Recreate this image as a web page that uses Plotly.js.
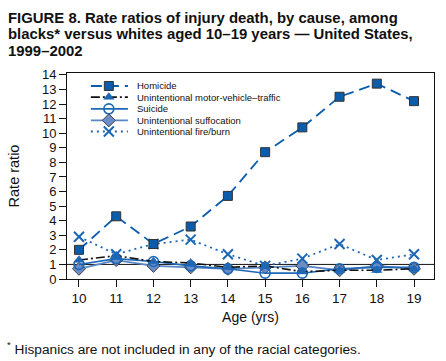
<!DOCTYPE html>
<html><head><meta charset="utf-8">
<script src="https://cdn.plot.ly/plotly-3.0.1.min.js"></script>
<style>html,body{margin:0;padding:0;background:#fff}#chart{width:446px;height:361px}</style>
</head><body><div id="chart"></div>
<script>
var ages = [10, 11, 12, 13, 14, 15, 16, 17, 18, 19];
var homicide = [2.0, 4.3, 2.4, 3.6, 5.7, 8.7, 10.4, 12.5, 13.4, 12.2];
var motorVehicle = [1.3, 1.6, 1.2, 1.1, 0.8, 0.9, 0.5, 0.6, 0.6, 0.7];
var suicide = [1.0, 1.4, 1.2, 0.9, 0.7, 0.4, 0.4, 0.7, 0.8, 0.8];
var suffocation = [0.7, 1.3, 0.9, 0.8, 0.7, 0.8, 0.9, 0.6, 0.9, 0.7];
var fireBurn = [2.9, 1.7, 2.4, 2.7, 1.7, 0.9, 1.4, 2.4, 1.3, 1.7];
var seriesNames = ["Homicide", "Unintentional motor-vehicle\u2013traffic", "Suicide", "Unintentional suffocation", "Unintentional fire/burn"];
var yTicks = [0,1,2,3,4,5,6,7,8,9,10,11,12,13,14];
var titleLines = ["FIGURE 8. Rate ratios of injury death, by cause, among", "blacks* versus whites aged 10\u201319 years \u2014 United States,", "1999\u20132002"];
var footnote = "<sup>*</sup> Hispanics are not included in any of the racial categories.";

var FONT = 'Liberation Sans, Arial, sans-serif';
var styles = [
  {line:{color:'#0b5cab', width:1.8, dash:'11px,6px'}, marker:{symbol:'square', size:9, color:'#0b5cab', line:{color:'#333', width:1}}},
  {line:{color:'#111', width:1.6, dash:'9px,3px,2px,3px'}, marker:{symbol:'triangle-up', size:9, color:'#1f66b3', line:{color:'#1f66b3', width:0.5}}},
  {line:{color:'#1c67b6', width:1.6}, marker:{symbol:'circle-open', size:10, color:'#1c67b6', line:{color:'#1c67b6', width:1.6}}},
  {line:{color:'#5b86c4', width:1.8}, marker:{symbol:'diamond', size:10, color:'#6a8dc8', line:{color:'#444', width:1}}},
  {line:{color:'#1c67b6', width:1.8, dash:'2px,4px'}, marker:{symbol:'x-thin-open', size:10, color:'#1c67b6', line:{color:'#1c67b6', width:2}}}
];
var data = [homicide, motorVehicle, suicide, suffocation, fireBurn];
var drawOrder = [3, 2, 1, 4, 0];
var traces = [];
drawOrder.forEach(function(i){
  traces.push({x: ages, y: data[i], type:'scatter', mode:'lines+markers', name: seriesNames[i],
    line: styles[i].line, marker: styles[i].marker, showlegend:false, hoverinfo:'skip'});
});

// custom legend on overlay axes (range 0..1)
var legY = [0.937, 0.883, 0.826, 0.770, 0.716];
var legX0 = 0.065, legX1 = 0.166, legXm = 0.114, legText = 0.186;
var annotations = [];
for (var i = 0; i < 5; i++) {
  traces.push({x:[legX0, legX1], y:[legY[i], legY[i]], xaxis:'x2', yaxis:'y2', type:'scatter', mode:'lines',
    line: styles[i].line, showlegend:false, hoverinfo:'skip'});
  traces.push({x:[legXm], y:[legY[i]], xaxis:'x2', yaxis:'y2', type:'scatter', mode:'markers',
    marker: styles[i].marker, showlegend:false, hoverinfo:'skip'});
  annotations.push({xref:'paper', yref:'paper', x:legText, y:legY[i], xanchor:'left', yanchor:'middle',
    text: seriesNames[i], showarrow:false, font:{size:9.5, color:'#111', family:FONT}});
}
var titleY = [1.267, 1.187, 1.107];
for (var j = 0; j < 3; j++) {
  annotations.push({xref:'paper', yref:'paper', x:-0.166, y:titleY[j], xanchor:'left', yanchor:'middle',
    text:'<b>' + titleLines[j] + '</b>', showarrow:false, font:{size:14.9, color:'#111', family:FONT}});
}
annotations.push({xref:'paper', yref:'paper', x:-0.168, y:-0.335, xanchor:'left', yanchor:'middle',
  text:footnote, showarrow:false, font:{size:13.7, color:'#111', family:FONT}});

var layout = {
  width:446, height:361,
  margin:{l:67, r:12, t:73, b:82},
  paper_bgcolor:'#fff', plot_bgcolor:'#fff',
  font:{family:FONT, color:'#111'},
  xaxis:{range:[9.678, 19.537], tickvals:ages, ticks:'outside', ticklen:7, tickcolor:'#111', showline:true, linecolor:'#111', linewidth:1, mirror:true,
    showgrid:false, zeroline:false, tickfont:{size:13.5}, title:{text:'Age (yrs)', font:{size:14}, standoff:6}},
  yaxis:{range:[0, 14.13], tickvals:yTicks, ticks:'outside', ticklen:7, tickcolor:'#111', showline:true, linecolor:'#111', linewidth:1, mirror:true,
    showgrid:false, zeroline:false, tickfont:{size:13}, title:{text:'Rate ratio', font:{size:14.5}, standoff:18}},
  xaxis2:{overlaying:'x', range:[0,1], visible:false},
  yaxis2:{overlaying:'y', range:[0,1], visible:false},
  shapes:[{type:'line', xref:'paper', x0:0, x1:1, yref:'y', y0:1, y1:1, line:{color:'#111', width:1}, layer:'below'}],
  annotations: annotations,
  showlegend:false
};
Plotly.newPlot('chart', traces, layout, {displayModeBar:false, staticPlot:true});
</script></body></html>
